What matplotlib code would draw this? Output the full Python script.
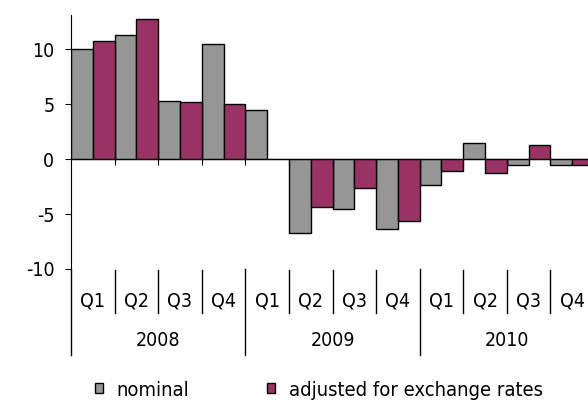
import matplotlib
matplotlib.use("Agg")
import matplotlib.pyplot as plt
from matplotlib.patches import Patch

years = ["2008", "2009", "2010"]
quarters = ["Q1", "Q2", "Q3", "Q4"] * 3
nominal = [10.0, 11.3, 5.3, 10.5, 4.5, -6.75, -4.55, -6.4, -2.4, 1.45, -0.55, -0.55]
adjusted = [10.7, 12.7, 5.2, 5.05, 0.0, -4.4, -2.6, -5.65, -1.1, -1.27, 1.3, -0.55]

grey = "#969696"
purple = "#993366"

plt.rcParams["axes.unicode_minus"] = False
plt.rcParams["font.family"] = "DejaVu Sans"
plt.rcParams["font.stretch"] = "condensed"
fs = 14

fig = plt.figure(figsize=(5.88, 4.01), dpi=100)
# right edge runs past the figure, the reference is cropped there
ax = fig.add_axes([71 / 588, 1 - 269 / 401, 523 / 588, 254 / 401])

x = list(range(len(quarters)))
w = 0.5
ax.bar([i - w / 2 for i in x], nominal, width=w, color=grey,
       edgecolor="black", linewidth=1)
ax.bar([i + w / 2 for i in x], adjusted, width=w, color=purple,
       edgecolor="black", linewidth=1)

ax.set_xlim(-0.5, len(quarters) - 0.5)
ax.set_ylim(-10, 13.1)
ax.set_yticks([-10, -5, 0, 5, 10])
ax.tick_params(axis="y", direction="out", length=4, pad=8, labelsize=fs)

ax.spines["top"].set_visible(False)
ax.spines["right"].set_visible(False)
ax.spines["bottom"].set_position(("data", 0))
ax.spines["bottom"].set_zorder(3)
ax.set_xticks([i + 0.5 for i in x[:-1]])
ax.set_xticklabels([])
ax.tick_params(axis="x", direction="out", length=4)

tr = ax.get_xaxis_transform()
for i, q in enumerate(quarters):
    ax.text(i, -0.126, q, transform=tr, ha="center", va="center",
            fontsize=fs, clip_on=False)
for k, yr in enumerate(years):
    ax.text(4 * k + 1.5, -0.28, yr, transform=tr, ha="center", va="center",
            fontsize=fs, clip_on=False)

# category dividers below the axis
for i in x:
    b = i - 0.5
    if i % 4 == 0:
        ax.plot([b, b], [0, -0.339], transform=tr, color="black", lw=1,
                clip_on=False)
    else:
        ax.plot([b, b], [-0.004, -0.173], transform=tr, color="black", lw=1,
                clip_on=False)

handles = [Patch(facecolor=grey, edgecolor="black", linewidth=1),
           Patch(facecolor=purple, edgecolor="black", linewidth=1)]
fig.legend(handles, ["nominal", "adjusted for exchange rates"],
           loc="center left", bbox_to_anchor=(95 / 588, 1 - 390 / 401),
           ncol=2, frameon=False, fontsize=14.5, borderpad=0, borderaxespad=0,
           handlelength=0.4, handleheight=0.4, handletextpad=0.65,
           columnspacing=3.9)

fig.savefig("out.png", dpi=100)
